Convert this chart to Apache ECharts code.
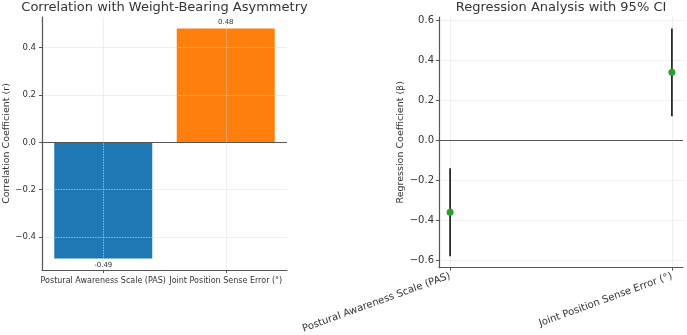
<!DOCTYPE html>
<html>
<head>
<meta charset="utf-8">
<script src="https://cdn.jsdelivr.net/npm/echarts@6/dist/echarts.min.js"></script>
<style>
html, body { margin: 0; padding: 0; background: #fff; }
#chart { width: 687px; height: 335px; }
</style>
</head>
<body>
<div id="chart"></div>
<script>
// data
const categories = ['Postural Awareness Scale (PAS)', 'Joint Position Sense Error (°)'];
const correlations = [-0.49, 0.48];
const betas = [-0.36, 0.34];
const ciLow = [-0.58, 0.12];
const ciHigh = [-0.14, 0.56];
const corrTicks = [-0.4, -0.2, 0, 0.2, 0.4];
const betaTicks = [-0.6, -0.4, -0.2, 0, 0.2, 0.4, 0.6];
const catTicks = [0, 1];
const barColors = ['#1f77b4', '#ff7f0e'];

const FONT = 'DejaVu Sans';
const fmt = v => (v < 0 ? '\u2212' : '') + Math.abs(v).toFixed(1);
// matplotlib style 5% margins
const pad = (lo, hi) => { const s = hi - lo; return [lo - s * 0.05, hi + s * 0.05]; };
const corrExt = pad(Math.min(0, ...correlations), Math.max(0, ...correlations));
const betaExt = pad(Math.min(...ciLow), Math.max(...ciHigh));

const gridLine = { show: true, lineStyle: { color: '#d6d6d6', type: 'dotted', width: 0.8 } };
const axisLine = { show: true, onZero: false, lineStyle: { color: '#555', width: 1.2 } };

let myChart = echarts.init(document.getElementById('chart'));
var option = {
  animation: false,
  backgroundColor: '#fff',
  textStyle: { fontFamily: FONT },
  title: [
    {
      text: 'Correlation with Weight-Bearing Asymmetry',
      left: 164.5, top: 1, padding: 0, textAlign: 'center',
      textStyle: { fontFamily: FONT, fontSize: 13, fontWeight: 'normal', color: '#333' }
    },
    {
      text: 'Regression Analysis with 95% CI',
      left: 561, top: 1, padding: 0, textAlign: 'center',
      textStyle: { fontFamily: FONT, fontSize: 13, fontWeight: 'normal', color: '#333' }
    }
  ],
  grid: [
    { left: 42, right: 400, top: 17, bottom: 65 },
    { left: 439, right: 4, top: 17, bottom: 65 }
  ],
  xAxis: [
    {
      gridIndex: 0,
      type: 'category',
      data: categories,
      axisLine: axisLine,
      axisTick: { show: true, alignWithLabel: true, length: 3, lineStyle: { color: '#555' } },
      axisLabel: { fontFamily: FONT, fontSize: 8, color: '#333', margin: 7, interval: 0 },
      splitLine: { show: false }
    },
    {
      gridIndex: 1,
      type: 'value',
      min: -0.05, max: 1.05,
      axisLine: axisLine,
      axisTick: { show: true, length: 3, customValues: catTicks, lineStyle: { color: '#555' } },
      axisLabel: {
        customValues: catTicks,
        fontFamily: FONT, fontSize: 10, color: '#333', margin: 8, rotate: 20,
        formatter: v => categories[Math.round(v)]
      },
      splitLine: gridLine,
      z: 5
    }
  ],
  yAxis: [
    {
      gridIndex: 0,
      type: 'value',
      min: corrExt[0], max: corrExt[1],
      name: 'Correlation Coefficient (r)',
      nameLocation: 'middle', nameGap: 30,
      nameTextStyle: { fontFamily: FONT, fontSize: 9.5, color: '#333' },
      axisLine: axisLine,
      axisTick: { show: true, length: 3, customValues: corrTicks, lineStyle: { color: '#555' } },
      axisLabel: { customValues: corrTicks, fontFamily: FONT, fontSize: 8.5, color: '#333', margin: 6, formatter: fmt },
      splitLine: gridLine,
      z: 5
    },
    {
      gridIndex: 1,
      type: 'value',
      min: betaExt[0], max: betaExt[1],
      name: 'Regression Coefficient (\u03b2)',
      nameLocation: 'middle', nameGap: 31,
      nameTextStyle: { fontFamily: FONT, fontSize: 9.5, color: '#333' },
      axisLine: axisLine,
      axisTick: { show: true, length: 3, customValues: betaTicks, lineStyle: { color: '#555' } },
      axisLabel: { customValues: betaTicks, fontFamily: FONT, fontSize: 10, color: '#333', margin: 5, formatter: fmt },
      splitLine: gridLine,
      z: 5
    }
  ],
  series: [
    {
      name: 'Correlation',
      type: 'bar',
      xAxisIndex: 0, yAxisIndex: 0,
      barWidth: '80%',
      data: correlations.map((v, i) => ({
        value: v,
        itemStyle: { color: barColors[i] },
        label: { position: v < 0 ? 'bottom' : 'top' }
      })),
      label: {
        show: true, fontFamily: FONT, fontSize: 7, color: '#333', distance: 3,
        formatter: p => p.value.toFixed(2)
      },
      markLine: {
        silent: true, symbol: 'none', label: { show: false },
        data: [
          { yAxis: 0, lineStyle: { color: '#555', type: 'solid', width: 1 } },
          { xAxis: categories[0], lineStyle: { color: '#d6d6d6', type: 'dotted', width: 0.8 } },
          { xAxis: categories[1], lineStyle: { color: '#d6d6d6', type: 'dotted', width: 0.8 } }
        ]
      }
    },
    {
      name: 'CI',
      type: 'custom',
      xAxisIndex: 1, yAxisIndex: 1,
      encode: { x: 0, y: [1, 2] },
      data: catTicks.map((x, i) => [x, ciLow[i], ciHigh[i]]),
      renderItem: (params, api) => {
        const a = api.coord([api.value(0), api.value(1)]);
        const b = api.coord([api.value(0), api.value(2)]);
        return {
          type: 'line',
          shape: { x1: a[0], y1: a[1], x2: b[0], y2: b[1] },
          style: { stroke: '#111', lineWidth: 1.6 }
        };
      },
      z: 6
    },
    {
      name: 'Beta',
      type: 'scatter',
      xAxisIndex: 1, yAxisIndex: 1,
      symbolSize: 7,
      itemStyle: { color: '#2ca02c', opacity: 1 },
      data: catTicks.map((x, i) => [x, betas[i]]),
      z: 7,
      markLine: {
        silent: true, symbol: 'none', label: { show: false },
        lineStyle: { color: '#555', type: 'solid', width: 1 },
        data: [{ yAxis: 0 }]
      }
    }
  ]
};
myChart.setOption(option);
</script>
</body>
</html>
